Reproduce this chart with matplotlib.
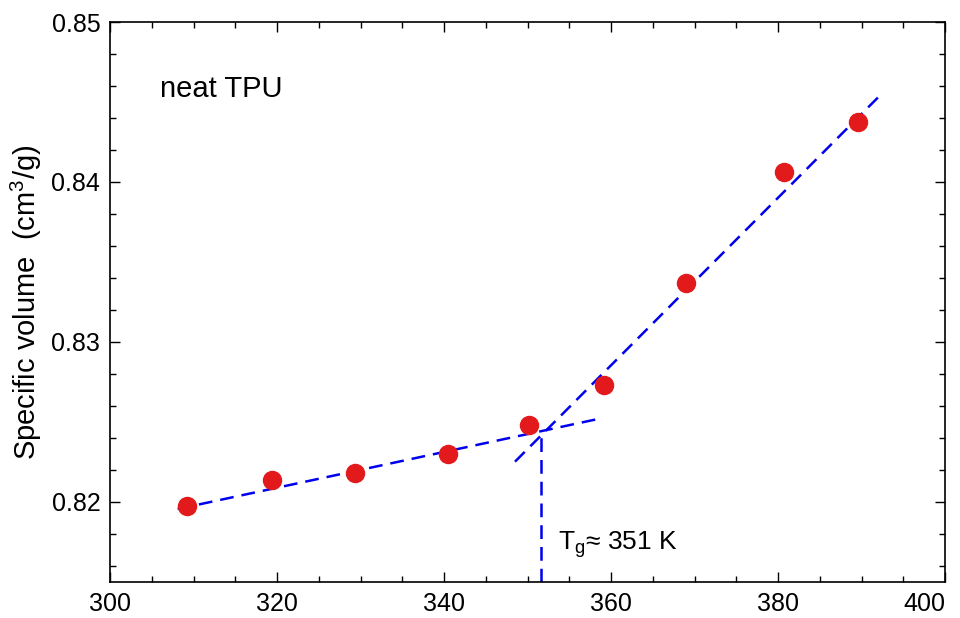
import matplotlib
matplotlib.use("Agg")
import matplotlib.pyplot as plt
from matplotlib.ticker import MultipleLocator

plt.rcParams['font.family'] = ['Liberation Sans', 'DejaVu Sans']
plt.rcParams['mathtext.default'] = 'regular'

# temperature (K) and specific volume (cm3/g)
temp = [309.2, 319.4, 329.3, 340.5, 350.2, 359.2, 369.0, 380.7, 389.6]
vol = [0.81975, 0.82138, 0.82182, 0.82302, 0.82478, 0.82730, 0.8337, 0.84063, 0.84377]

# glassy and rubbery fit lines
glass_x = [308.1, 358.2]
glass_y = [0.81956, 0.82516]
rubber_x = [348.5, 392.1]
rubber_y = [0.82252, 0.84535]
tg = 351.6
tg_y = 0.82428

fig = plt.figure(figsize=(9.6, 6.18), dpi=100)
ax = fig.add_axes([0.1146, 0.0583, 0.8698, 0.9061])

dash = (5.5, 3.2)
ax.plot(glass_x, glass_y, '--', color='#0000ee', lw=1.8, dashes=dash)
ax.plot(rubber_x, rubber_y, '--', color='#0000ee', lw=1.8, dashes=dash)
ax.plot([tg, tg], [0.815, tg_y], '--', color='#0000ee', lw=1.8, dashes=dash)
ax.plot(temp, vol, 'o', color='#e31a1c', ms=13, zorder=3)

ax.set_xlim(300, 400)
ax.set_ylim(0.815, 0.85)
ax.set_xticks([300, 320, 340, 360, 380, 400])
ax.xaxis.set_minor_locator(MultipleLocator(5))
ax.set_yticks([0.82, 0.83, 0.84, 0.85])
ax.yaxis.set_minor_locator(MultipleLocator(0.002))
ax.tick_params(which='both', direction='in', top=True, right=True, labelsize=18)
ax.tick_params(which='major', length=7, width=1, pad=7)
ax.tick_params(which='minor', length=4, width=1)
for s in ax.spines.values():
    s.set_linewidth(1.2)

ax.set_ylabel('Specific volume  (cm$^3$/g)', fontsize=21, labelpad=5)
ax.text(0.06, 0.866, 'neat TPU', transform=ax.transAxes, fontsize=21)
ax.text(353.6, 0.8170, 'T$_g$≈ 351 K', fontsize=19)

# keep the last x label inside the figure
fig.canvas.draw()
for lab in ax.get_xticklabels():
    if lab.get_text() == '400':
        lab.set_horizontalalignment('right')

fig.savefig('out.png', dpi=100)
